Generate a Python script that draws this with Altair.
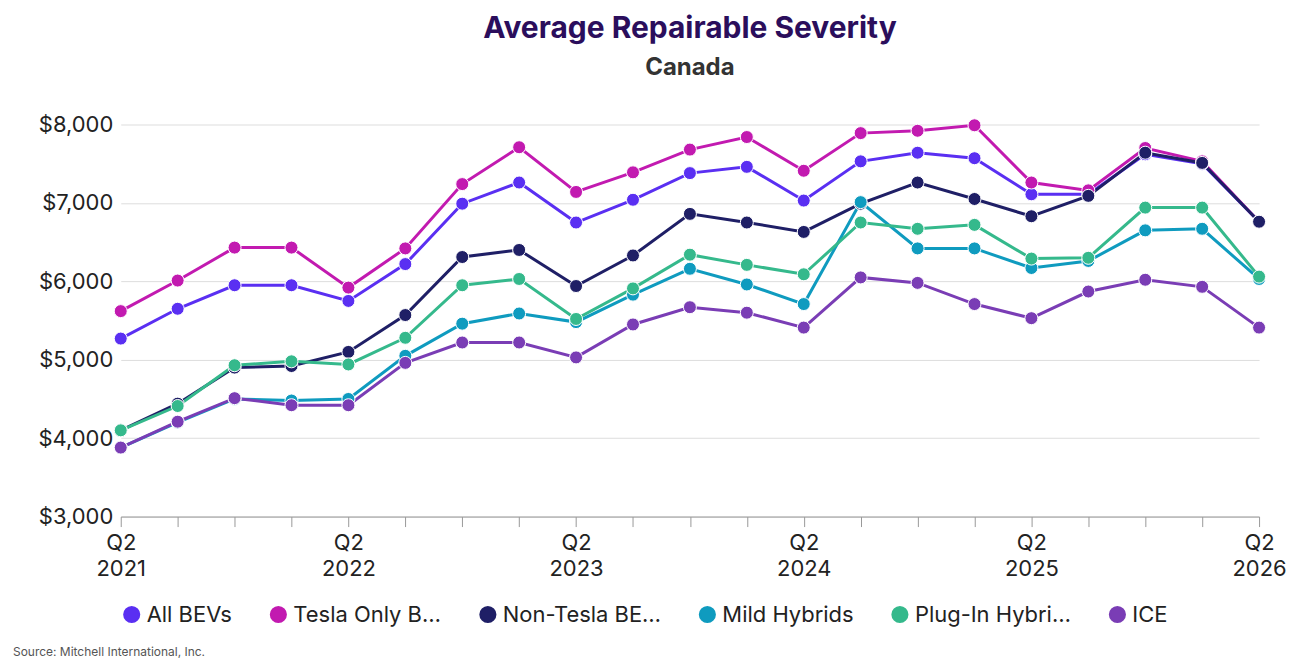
import altair as alt
import pandas as pd

quarters = [f"Q{q} {y}" for y in range(2021, 2027) for q in (1, 2, 3, 4)][1:22]

all_bevs = [5270, 5650, 5950, 5950, 5750, 6220, 6990, 7260, 6750, 7040, 7380, 7460, 7030, 7530, 7640, 7570, 7110, 7110, 7620, 7500, 6760]
tesla = [5620, 6010, 6430, 6430, 5920, 6420, 7240, 7710, 7140, 7390, 7680, 7840, 7410, 7890, 7920, 7990, 7260, 7160, 7700, 7530, 6760]
non_tesla = [4100, 4440, 4900, 4920, 5100, 5570, 6310, 6400, 5940, 6330, 6860, 6750, 6630, 6990, 7260, 7050, 6830, 7090, 7640, 7510, 6760]
mild = [3880, 4200, 4500, 4480, 4500, 5050, 5460, 5590, 5480, 5830, 6160, 5960, 5710, 7010, 6420, 6420, 6170, 6260, 6650, 6670, 6030]
plugin = [4100, 4410, 4930, 4980, 4940, 5280, 5950, 6030, 5520, 5910, 6340, 6210, 6090, 6750, 6670, 6720, 6290, 6300, 6940, 6940, 6060]
ice = [3880, 4210, 4510, 4420, 4420, 4960, 5220, 5220, 5030, 5450, 5670, 5600, 5410, 6050, 5980, 5710, 5530, 5870, 6020, 5930, 5410]

series = {
    "All BEVs": all_bevs,
    "Tesla Only BEVs": tesla,
    "Non-Tesla BEVs": non_tesla,
    "Mild Hybrids": mild,
    "Plug-In Hybrids": plugin,
    "ICE": ice,
}
colors = ["#5a2ff2", "#c21ab0", "#1f1f66", "#0f9bbf", "#35b98c", "#7a3db5"]

rows = []
for name, vals in series.items():
    for q, v in zip(quarters, vals):
        rows.append({"quarter": q, "series": name, "value": v})
df = pd.DataFrame(rows)

FONT = "Inter"
W, H = 1141, 393

base = alt.Chart(df).encode(
    x=alt.X(
        "quarter:O",
        sort=quarters,
        scale=alt.Scale(padding=0),
        axis=alt.Axis(
            title=None,
            labelAngle=0,
            labelExpr="indexof(datum.value, 'Q2') >= 0 ? split(datum.value, ' ') : ''",
            labelFontSize=22,
            labelColor="#222",
            labelPadding=6,
            labelLineHeight=26,
            tickSize=10,
            tickColor="#999",
            domainColor="#999",
            grid=False,
        ),
    ),
    y=alt.Y(
        "value:Q",
        scale=alt.Scale(domain=[3000, 8000]),
        axis=alt.Axis(
            title=None,
            values=[3000, 4000, 5000, 6000, 7000, 8000],
            format="$,.0f",
            labelFontSize=22,
            labelColor="#222",
            labelPadding=8,
            ticks=False,
            domain=False,
            gridColor="#dddddd",
        ),
    ),
    color=alt.Color(
        "series:N",
        sort=list(series.keys()),
        scale=alt.Scale(domain=list(series.keys()), range=colors),
        legend=alt.Legend(
            title=None,
            orient="bottom",
            direction="horizontal",
            labelFontSize=22,
            labelColor="#222",
            symbolType="circle",
            symbolSize=230,
            symbolStrokeWidth=2,
            columnPadding=34,
            offset=24,
        ),
    ),
)

lines = base.mark_line(strokeWidth=3)
points = base.mark_circle(size=170, opacity=1, stroke="white", strokeWidth=1)

source = alt.Chart(pd.DataFrame({"t": ["Source: Mitchell International, Inc."]})).mark_text(
    align="left", fontSize=12, color="#555", font=FONT
).encode(x=alt.value(-108), y=alt.value(H + 136), text="t:N")

chart = (
    alt.layer(lines, points, source)
    .properties(
        width=W,
        height=H,
        title=alt.TitleParams(
            "Average Repairable Severity",
            subtitle="Canada",
            fontSize=30,
            color="#2b0e5c",
            subtitleFontSize=24,
            subtitleColor="#333",
            subtitleFontWeight="bold",
            subtitlePadding=12,
            anchor="middle",
            offset=34,
        ),
    )
    .configure(font=FONT)
    .configure_view(stroke=None)
)

chart.save("out.html", embed_options={"renderer": "svg", "actions": False})
